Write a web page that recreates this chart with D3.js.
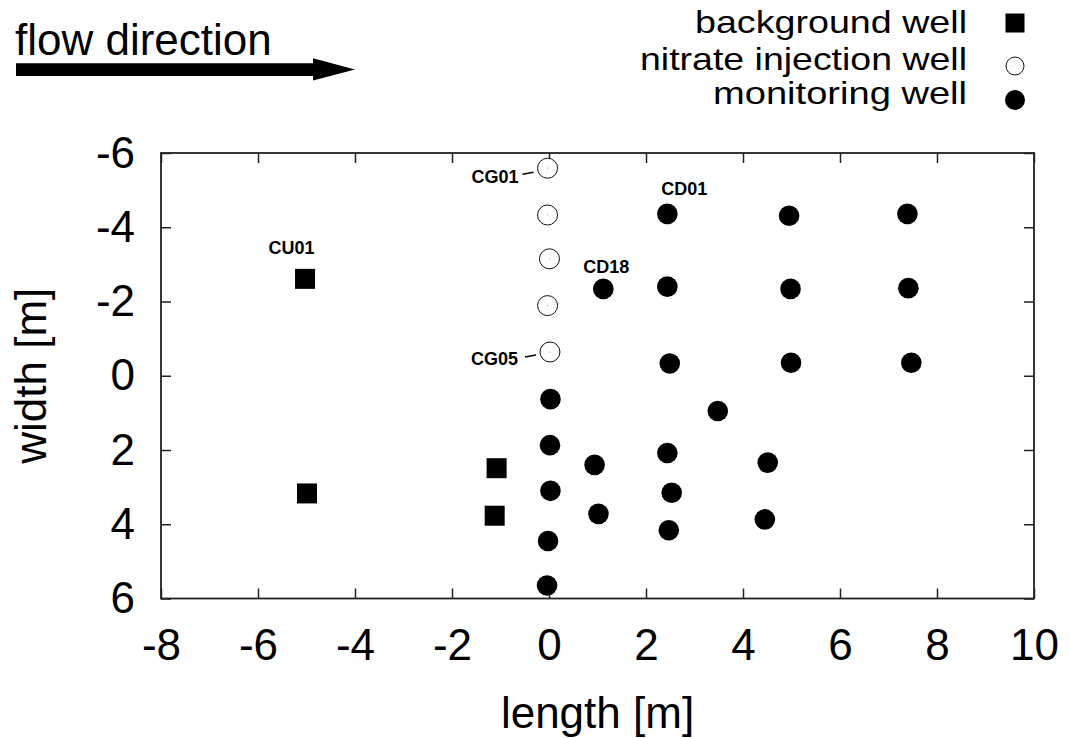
<!DOCTYPE html>
<html>
<head>
<meta charset="utf-8">
<script src="https://cdn.jsdelivr.net/npm/d3@7"></script>
<style>
  html, body { margin: 0; padding: 0; background: #fff; }
  svg { display: block; font-family: "Liberation Sans", Arial, Helvetica, sans-serif; }
</style>
</head>
<body>
<svg id="chart" width="1070" height="738"></svg>
<script>
// ---- data ----
const xTicks = [-8, -6, -4, -2, 0, 2, 4, 6, 8, 10];
const yTicks = [-6, -4, -2, 0, 2, 4, 6];

const backgroundX = [-5.03, -4.99, -1.08, -1.12];
const backgroundY = [-2.61, 3.17, 2.49, 3.77];

const injectionX = [-0.03, -0.03, 0.01, -0.03, 0.02];
const injectionY = [-5.59, -4.33, -3.15, -1.89, -0.64];

const monitoringX = [2.44, 4.95, 7.39, 1.12, 2.44, 4.98, 7.41, 2.49, 4.99, 7.47,
                     0.03, 3.48, 0.02, 2.44, 0.94, 4.51, 0.03, 2.53, 1.02, 4.45, -0.02, 2.47, -0.04];
const monitoringY = [-4.36, -4.31, -4.36, -2.34, -2.40, -2.34, -2.36, -0.33, -0.35, -0.35,
                     0.63, 0.95, 1.87, 2.08, 2.40, 2.34, 3.10, 3.15, 3.72, 3.87, 4.45, 4.16, 5.65];

const legendLabels = ["background well", "nitrate injection well", "monitoring well"];

// well labels: text and the well they belong to
const labelNames = ["CG01", "CG05", "CU01", "CD01", "CD18"];
const labelWellX = [injectionX[0], injectionX[4], backgroundX[0], monitoringX[0], monitoringX[3]];
const labelWellY = [injectionY[0], injectionY[4], backgroundY[0], monitoringY[0], monitoringY[3]];

// ---- drawing ----
const svg = d3.select("#chart");
const FONT = '"Liberation Sans", Arial, Helvetica, sans-serif';
const L = 161, R = 1034, T = 153, B = 598.5;

const x = d3.scaleLinear().domain([-8, 10]).range([L, R]);
const y = d3.scaleLinear().domain([-6, 6]).range([T, B]);

const axisColor = "#222";

function styleAxis(g) {
  g.select(".domain").remove();
  g.selectAll(".tick line").attr("stroke", axisColor).attr("stroke-width", 1.5);
  g.selectAll(".tick text").attr("fill", "#000").style("font-size", "44px").style("font-family", FONT);
}

svg.append("g").attr("transform", `translate(0,${B})`)
  .call(d3.axisBottom(x).tickValues(xTicks).tickFormat(d => String(d)).tickSize(-10).tickSizeOuter(0).tickPadding(30))
  .call(styleAxis);
svg.append("g").attr("transform", `translate(0,${T})`)
  .call(d3.axisTop(x).tickValues(xTicks).tickFormat("").tickSize(-10).tickSizeOuter(0))
  .call(styleAxis);
svg.append("g").attr("transform", `translate(${L},0)`)
  .call(d3.axisLeft(y).tickValues(yTicks).tickFormat(d => String(d)).tickSize(-10).tickSizeOuter(0).tickPadding(26))
  .call(styleAxis);
svg.append("g").attr("transform", `translate(${R},0)`)
  .call(d3.axisRight(y).tickValues(yTicks).tickFormat("").tickSize(-10).tickSizeOuter(0))
  .call(styleAxis);

// frame
svg.append("rect").attr("x", L).attr("y", T).attr("width", R - L).attr("height", B - T)
  .attr("fill", "none").attr("stroke", axisColor).attr("stroke-width", 1.8);

// axis titles
svg.append("text").attr("x", (L + R) / 2).attr("y", 728).attr("text-anchor", "middle")
  .style("font-size", "44px").text("length [m]");
svg.append("text").attr("transform", `translate(46,${(T + B) / 2}) rotate(-90)`).attr("text-anchor", "middle")
  .style("font-size", "44px").text("width [m]");

// squares: background wells
const SQ = 20;
svg.append("g").selectAll("rect").data(d3.range(backgroundX.length)).join("rect")
  .attr("x", i => x(backgroundX[i]) - SQ / 2).attr("y", i => y(backgroundY[i]) - SQ / 2)
  .attr("width", SQ).attr("height", SQ).attr("fill", "#000");

// open circles: injection wells
const inj = svg.append("g");
inj.selectAll("circle.o").data(d3.range(injectionX.length)).join("circle").attr("class", "o")
  .attr("cx", i => x(injectionX[i])).attr("cy", i => y(injectionY[i])).attr("r", 10)
  .attr("fill", "#fff").attr("stroke", "#111").attr("stroke-width", 1);
inj.selectAll("circle.c").data(d3.range(injectionX.length)).join("circle").attr("class", "c")
  .attr("cx", i => x(injectionX[i])).attr("cy", i => y(injectionY[i])).attr("r", 0.6)
  .attr("fill", "#999");

// filled circles: monitoring wells
svg.append("g").selectAll("circle").data(d3.range(monitoringX.length)).join("circle")
  .attr("cx", i => x(monitoringX[i])).attr("cy", i => y(monitoringY[i])).attr("r", 10.3)
  .attr("fill", "#000");

// well labels (pixel offsets from their well)
const labelOffsets = {
  CG01: { dx: -29, dy: 14.4, anchor: "end", line: [-25, 6, -14, 4] },
  CG05: { dx: -32, dy: 12.8, anchor: "end", line: [-25, 5, -14, 3] },
  CU01: { dx: -13.5, dy: -24.7, anchor: "middle" },
  CD01: { dx: 17, dy: -19, anchor: "middle" },
  CD18: { dx: 3, dy: -16.3, anchor: "middle" }
};
labelNames.forEach((name, i) => {
  const px = x(labelWellX[i]), py = y(labelWellY[i]);
  const o = labelOffsets[name];
  svg.append("text").attr("x", px + o.dx).attr("y", py + o.dy).attr("text-anchor", o.anchor)
    .style("font-size", "18px").style("font-weight", "bold").text(name);
  if (o.line) {
    svg.append("line").attr("x1", px + o.line[0]).attr("y1", py + o.line[1])
      .attr("x2", px + o.line[2]).attr("y2", py + o.line[3])
      .attr("stroke", "#000").attr("stroke-width", 1.6);
  }
});

// flow direction
svg.append("text").attr("x", 15).attr("y", 55).style("font-size", "44px").text("flow direction");
svg.append("path")
  .attr("d", "M16,63.3 L313,63.3 L313,58.3 L355,69.5 L313,80.5 L313,76 L16,76 Z")
  .attr("fill", "#000");

// legend
const legendBase = [33, 69.5, 104];
const legendLen = [272, 327, 254];
const lg = svg.append("g");
legendLabels.forEach((t, i) => {
  lg.append("text").attr("x", 967).attr("y", legendBase[i]).attr("text-anchor", "end")
    .attr("textLength", legendLen[i]).attr("lengthAdjust", "spacingAndGlyphs")
    .style("font-size", "32px").text(t);
});
lg.append("rect").attr("x", 1015 - 9.5).attr("y", 23 - 9.5).attr("width", 19).attr("height", 19).attr("fill", "#000");
lg.append("circle").attr("cx", 1015).attr("cy", 66).attr("r", 9).attr("fill", "#fff").attr("stroke", "#111").attr("stroke-width", 1);
lg.append("circle").attr("cx", 1015).attr("cy", 100).attr("r", 10).attr("fill", "#000");
</script>
</body>
</html>
